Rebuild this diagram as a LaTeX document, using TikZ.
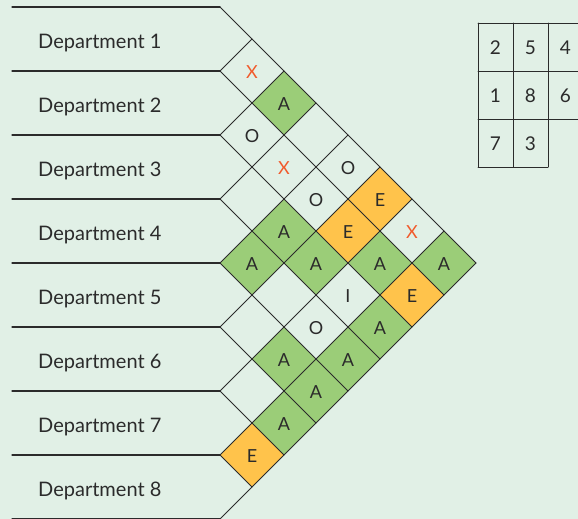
\documentclass[tikz,border=0pt]{standalone}
\usepackage{fontspec}
\setmainfont{Lato}
\definecolor{bgc}{HTML}{E1F0E6}
\definecolor{relA}{HTML}{9BCD78}
\definecolor{relE}{HTML}{FFC34B}
\definecolor{relX}{HTML}{F15A2B}
\definecolor{ink}{HTML}{2B2B2B}
\begin{document}
\begin{tikzpicture}[x=1pt,y=-1pt,line join=round,line cap=round,
  grid/.style={ink,line width=0.9pt},
  rowline/.style={ink,line width=1.2pt},
  rel/.style={anchor=base,inner sep=0pt,font=\fontsize{18}{20}\selectfont},
  dept/.style={anchor=base west,inner sep=0pt,text=ink,font=\fontsize{20}{22}\selectfont},
  num/.style={anchor=base,inner sep=0pt,text=ink,font=\fontsize{19}{21}\selectfont}]
			\def \xl{220};
			\def \h{32};
			\fill[bgc] (0,0) rectangle (578,519);
			\useasboundingbox (0,0) rectangle (578,519);
			% coloured cells
			\foreach \i/\j/\c in {1/3/relA,4/5/relA,3/5/relA,3/6/relA,2/7/relA,1/8/relA,3/8/relA,
				5/7/relA,4/8/relA,5/8/relA,6/8/relA,1/6/relE,2/6/relE,2/8/relE,7/8/relE}
				\fill[\c] ({\xl+\h*(\j-\i)},{7+\h*(\i+\j-1)}) ++(-\h,0) -- ++(\h,-\h) -- ++(\h,\h) -- ++(-\h,\h) -- cycle;
			% rows and diagonals
			\foreach \k in {0,...,8}{
				\draw[rowline] (12,{7+64*\k}) -- (\xl,{7+64*\k});
				\draw[grid] (\xl,{7+64*\k}) -- ({476-\h*\k},{263+\h*\k});
				\draw[grid] (\xl,{7+64*\k}) -- ({\xl+\h*\k},{7+\h*\k});
			}
			\foreach \k in {1,...,8}
				\node[dept] (d\k) at (38,{48.5+64*(\k-1)}) {Department \k};
			% ratings
			\foreach \i/\j/\l/\t in {1/2/X/relX,1/3/A/ink,2/3/O/ink,2/4/X/relX,1/5/O/ink,2/5/O/ink,
				1/6/E/ink,3/5/A/ink,2/6/E/ink,1/7/X/relX,4/5/A/ink,3/6/A/ink,2/7/A/ink,1/8/A/ink,
				3/7/I/ink,2/8/E/ink,4/7/O/ink,3/8/A/ink,5/7/A/ink,4/8/A/ink,5/8/A/ink,6/8/A/ink,7/8/E/ink}
				\node[rel,text=\t] (r\i\j) at ({\xl+\h*(\j-\i)},{7+\h*(\i+\j-1)+7}) {\l};
			% layout
			\draw[grid] (478,23) -- (583,23) (478,71) -- (583,71) (478,119) -- (583,119) (478,167) -- (548,167);
			\draw[grid] (478,23) -- (478,167) (513,23) -- (513,167) (548,23) -- (548,167);
			\node[num] (n2) at (495.5,54.5) {2};
			\node[num] (n5) at (530.5,54.5) {5};
			\node[num] (n4) at (565.5,54.5) {4};
			\node[num] (n1) at (495.5,102) {1};
			\node[num] (n8) at (530.5,102) {8};
			\node[num] (n6) at (565.5,102) {6};
			\node[num] (n7) at (495.5,150) {7};
			\node[num] (n3) at (530.5,150) {3};
		\end{tikzpicture}
\end{document}
